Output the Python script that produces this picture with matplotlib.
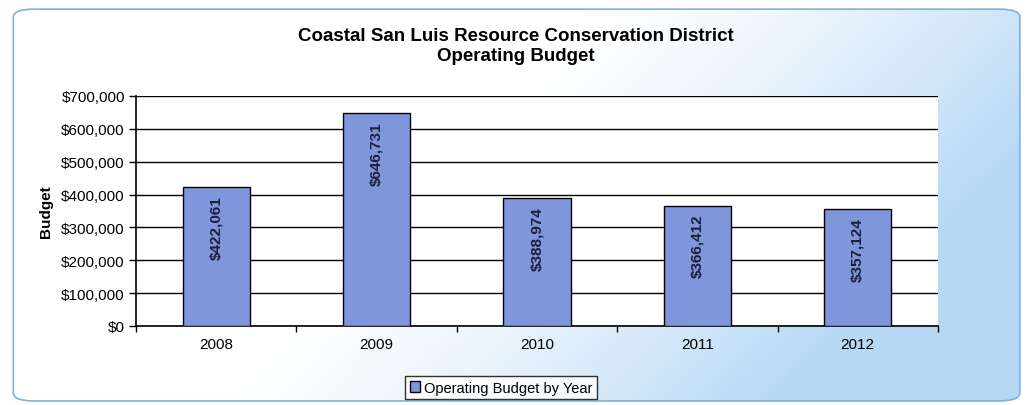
import matplotlib.pyplot as plt
import numpy as np
from matplotlib.patches import FancyBboxPatch
from matplotlib.ticker import FuncFormatter, FixedLocator

plt.rcParams['font.family'] = ['Liberation Sans', 'DejaVu Sans']

years = ["2008", "2009", "2010", "2011", "2012"]
budget = [422061, 646731, 388974, 366412, 357124]

fig = plt.figure(figsize=(10.25, 4.06), dpi=100)

# background panel with soft blue gradient
bg = fig.add_axes([0, 0, 1, 1], zorder=-10)
bg.set_xlim(0, 1)
bg.set_ylim(0, 1)
bg.axis("off")
gx, gy = np.meshgrid(np.linspace(0, 1, 300), np.linspace(0, 1, 120))
t = np.clip(1.8 * gx - 1.05 + 0.7 * gy, 0, 1) ** 1.4
white = np.array([1.0, 1.0, 1.0])
blue = np.array([0.72, 0.85, 0.96])
img = white[None, None, :] * (1 - t[..., None]) + blue[None, None, :] * t[..., None]
box = FancyBboxPatch((0.013, 0.01), 0.982, 0.965, boxstyle="round,pad=0,rounding_size=0.02",
                     transform=bg.transAxes, facecolor="none", edgecolor="#7fb0e0", lw=1.2)
bg.add_patch(box)
im = bg.imshow(img, extent=(0, 1, 0, 1), aspect="auto", origin="upper")
im.set_clip_path(box)

ax = fig.add_axes([0.1327, 0.1946, 0.7823, 0.5665])
x = np.arange(len(years))
bars = ax.bar(x, budget, width=0.42, color="#7f95dc", edgecolor="black", linewidth=1.0, zorder=3)

for xi, v in zip(x, budget):
    ax.text(xi, v - 25000, "${:,}".format(v), rotation=90, ha="center", va="top",
            fontsize=11, fontweight="bold", color="#1c2038", zorder=4)

ax.set_xlim(-0.5, len(years) - 0.5)
ax.set_ylim(0, 700000)
ax.set_yticks(np.arange(0, 700001, 100000))
ax.yaxis.set_major_formatter(FuncFormatter(lambda v, p: "${:,.0f}".format(v)))
ax.yaxis.grid(True, color="black", lw=1.0, zorder=0)
ax.set_axisbelow(True)

ax.set_xticks(x)
ax.set_xticklabels(years)
ax.xaxis.set_minor_locator(FixedLocator(np.arange(-0.5, len(years), 1.0)))
ax.tick_params(axis="x", which="major", length=0, pad=8, labelsize=11)
ax.tick_params(axis="x", which="minor", length=4, width=1.0, direction="out")
ax.tick_params(axis="y", length=5, width=1.0, labelsize=11, pad=3)

for s in ["top", "right"]:
    ax.spines[s].set_visible(False)
ax.spines["left"].set_linewidth(1.2)
ax.spines["bottom"].set_linewidth(1.2)
ax.set_facecolor("white")

ax.set_ylabel("Budget", fontsize=11, fontweight="bold", labelpad=6)

fig.text(0.503, 0.885, "Coastal San Luis Resource Conservation District\nOperating Budget",
         ha="center", va="center", fontsize=13.5, fontweight="bold", linespacing=1.2)

leg = fig.legend([bars], ["Operating Budget by Year"], loc="center", bbox_to_anchor=(0.489, 0.043),
                 fontsize=10.5, frameon=True, fancybox=False, edgecolor="black", handlelength=0.7,
                 handleheight=0.7, handletextpad=0.3, borderpad=0.3)
leg.get_frame().set_linewidth(1.0)
leg.get_frame().set_facecolor("white")

fig.savefig("out.png", dpi=100)
